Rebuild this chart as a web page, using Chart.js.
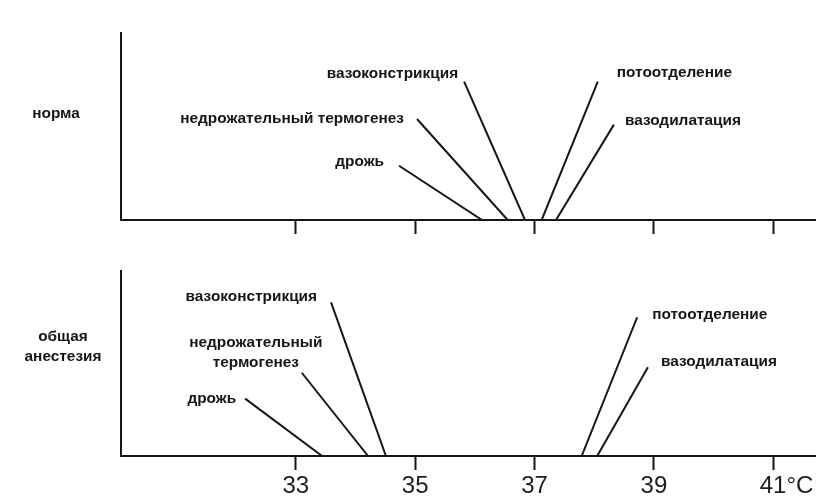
<!DOCTYPE html>
<html><head><meta charset="utf-8">
<script src="https://cdn.jsdelivr.net/npm/chart.js@4/dist/chart.umd.min.js"></script>
<style>
html,body{margin:0;padding:0;background:#fff;}
#wrap{position:relative;width:836px;height:501px;background:#fff;}
#c1{position:absolute;left:0;top:0;}
#c2{position:absolute;left:0;top:245px;}
</style></head><body>
<div id="wrap"><canvas id="c1" width="836" height="245"></canvas><canvas id="c2" width="836" height="256"></canvas></div>
<script>
// ---- data ----
const responses = ['дрожь', 'недрожательный термогенез', 'вазоконстрикция', 'потоотделение', 'вазодилатация'];
const anesthLabelLines = [['дрожь'], ['недрожательный', 'термогенез'], ['вазоконстрикция'], ['потоотделение'], ['вазодилатация']];
const conditionLines = [['норма'], ['общая', 'анестезия']];
const tickValues = [33, 35, 37, 39, 41];
const tickLabels = ['33', '35', '37', '39', '41°C'];
// temperature (°C) at which each response starts (where its line meets the axis)
const normalThreshold = [36.12, 36.55, 36.84, 37.12, 37.36];
const anesthThreshold = [33.44, 34.21, 34.51, 37.79, 38.05];
// upper end of each leader line: temperature and relative height (0–100)
const normalLineTopT = [34.73, 35.03, 35.82, 38.06, 38.33];
const normalLineTopH = [29, 54, 74, 74, 51];
const anesthLineTopT = [32.15, 33.10, 33.59, 38.72, 38.90];
const anesthLineTopH = [31, 45, 83, 75, 48];
const xMin = 30.07, xMax = 41.7;

// ---- style ----
const INK = '#161616';
const LABEL_FONT = 'bold 15.4px "Liberation Sans", Arial, sans-serif';
const normalLabelStyle = [
  {align: 'right', dx: -15, dy: -4},
  {align: 'right', dx: -13, dy: 0},
  {align: 'right', dx: -6, dy: -8},
  {align: 'left', dx: 19, dy: -9},
  {align: 'left', dx: 11, dy: -4}
];
const anesthLabelStyle = [
  {align: 'right', dx: -9, dy: 0},
  {align: 'center', dx: -46, dy: -30},
  {align: 'right', dx: -14, dy: -6},
  {align: 'left', dx: 15, dy: -3},
  {align: 'left', dx: 13, dy: -5}
];

const labelPlugin = {
  id: 'respLabels',
  afterDatasetsDraw(chart, args, opts) {
    const ctx = chart.ctx;
    ctx.save();
    ctx.font = LABEL_FONT;
    ctx.fillStyle = INK;
    ctx.textBaseline = 'middle';
    chart.data.datasets.forEach((ds, i) => {
      const pt = chart.getDatasetMeta(i).data[0];
      const st = opts.styles[i];
      ctx.textAlign = st.align;
      opts.lines[i].forEach((t, k) => ctx.fillText(t, pt.x + st.dx, pt.y + st.dy + k * 20));
    });
    ctx.textAlign = 'center';
    opts.condition.forEach((t, k) => ctx.fillText(t, opts.condX, opts.condY + k * 20));
    ctx.restore();
  }
};

function makeChart(id, thr, topT, topH, lines, styles, cond, condX, condY, showLabels, padTop, xHeight) {
  return new Chart(document.getElementById(id), {
    type: 'line',
    data: {
      datasets: responses.map((r, i) => ({
        label: r,
        data: [{x: topT[i], y: topH[i]}, {x: thr[i], y: 0}],
        borderColor: INK, borderWidth: 2, pointRadius: 0, fill: false, tension: 0
      }))
    },
    options: {
      responsive: false, animation: false, events: [],
      layout: {padding: {left: 121, right: 21, top: padTop, bottom: 0}},
      plugins: {
        legend: {display: false}, tooltip: {enabled: false},
        respLabels: {lines: lines, styles: styles, condition: cond, condX: condX, condY: condY}
      },
      scales: {
        x: {
          type: 'linear', min: xMin, max: xMax,
          afterBuildTicks: s => { s.ticks = tickValues.map(v => ({value: v})); },
          afterFit: s => { s.height = xHeight; },
          grid: {drawOnChartArea: false, drawTicks: true, tickLength: 14, tickWidth: 2, tickColor: INK},
          border: {display: true, color: INK, width: 2},
          ticks: {
            display: showLabels, autoSkip: false, maxRotation: 0, padding: 2,
            color: '#1e1e1e', font: {family: '"Liberation Sans", Arial, sans-serif', size: 24},
            callback: (v) => { const i = tickValues.indexOf(v); return i === tickValues.length - 1 ? '    ' + tickLabels[i] : tickLabels[i]; }
          }
        },
        y: {
          type: 'linear', min: 0, max: 100,
          afterFit: s => { s.width = 0; },
          grid: {drawOnChartArea: false, drawTicks: false},
          border: {display: true, color: INK, width: 2},
          ticks: {display: false}
        }
      }
    },
    plugins: [labelPlugin]
  });
}

makeChart('c1', normalThreshold, normalLineTopT, normalLineTopH, responses.map(r => [r]), normalLabelStyle, conditionLines[0], 56, 114, false, 33, 25);
makeChart('c2', anesthThreshold, anesthLineTopT, anesthLineTopH, anesthLabelLines, anesthLabelStyle, conditionLines[1], 63, 92, true, 26, 45);
</script>
</body></html>
